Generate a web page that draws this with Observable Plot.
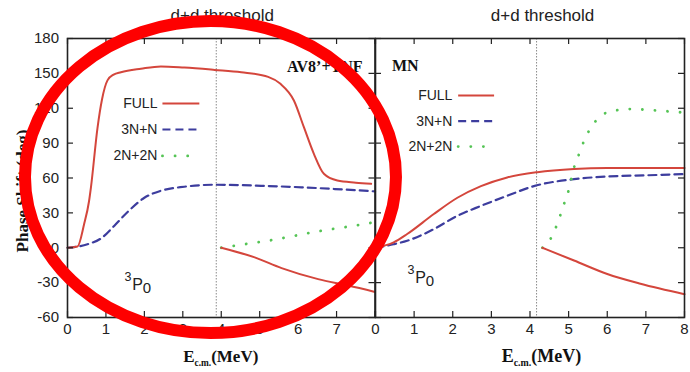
<!DOCTYPE html>
<html>
<head>
<meta charset="utf-8">
<script src="https://cdn.jsdelivr.net/npm/d3@7"></script>
<script src="https://cdn.jsdelivr.net/npm/@observablehq/plot@0.6"></script>
<style>
  body { margin: 0; background: #fff; }
  #chart { position: relative; width: 690px; height: 372px; background: #fff; overflow: hidden; }
  #chart svg { position: absolute; top: 0; overflow: visible; }
</style>
</head>
<body>
<div id="chart"></div>
<script>
// Axis ticks
const energyTicks = [0, 1, 2, 3, 4, 5, 6, 7, 8];
const energyTickLabelsAV8 = [0, 1, 2, 3, 4, 5, 6, 7];
const energyTickLabelsMN = [0, 1, 2, 3, 4, 5, 6, 7, 8];
const phaseTicks = [-60, -30, 0, 30, 60, 90, 120, 150, 180];

// AV8'+TNF, 3P0 phase shifts (deg) vs E_c.m. (MeV)
const av8Threshold = 3.87;
const av8FullE =     [0, 0.26, 0.43, 0.56, 0.61, 0.78, 0.9, 1.04, 1.2, 1.39, 1.91, 2.43, 3.04, 3.83, 4.52, 5.22, 5.54, 5.89, 6.15, 6.41, 6.67, 7.02, 7.5, 7.9];
const av8FullPhase = [0, 1,    20,   40,   52,   103,  128, 144,  149, 151,  154,  156,  155,  153,  151,  147,  141,  126.7, 103.7, 80.8, 63.6, 57.8, 56, 55];
const av8FullLowE =     [4.0, 4.87, 5.57, 6.52, 7.3, 8.0];
const av8FullLowPhase = [0, -8.3, -17.5, -27, -32.5, -38];
const av8ThreeNE =     [0, 0.52, 0.87, 1.22, 1.57, 2.0, 2.43, 3.04, 3.83, 5.04, 6.09, 6.96, 8.0];
const av8ThreeNPhase = [0, 3, 8, 19, 31, 43, 49, 52.5, 54.2, 53.3, 52, 50.5, 48.5];
const av8TwoNE =     [4.0, 4.5, 5.3, 6.5, 7.65, 8.0];
const av8TwoNPhase = [0, 2.5, 6.5, 14, 20, 22];

// MN, 3P0 phase shifts
const mnThreshold = 4.17;
const mnFullE =     [0, 0.47, 0.82, 1.51, 2.12, 2.73, 3.41, 4.19, 5.14, 6.0, 7.0, 8.0];
const mnFullPhase = [0, 4.6, 11.8, 29, 43, 53, 60.5, 65, 67.7, 68.5, 68.5, 68.5];
const mnFullLowE =     [4.32, 5.14, 6.0, 6.86, 8.0];
const mnFullLowPhase = [0, -11, -22.6, -31, -40];
const mnThreeNE =     [0, 0.47, 0.82, 1.51, 2.12, 2.73, 3.41, 4.1, 5.14, 6.0, 7.0, 8.0];
const mnThreeNPhase = [0, 3, 6, 16, 27.5, 36, 44.7, 53, 59, 61.3, 62.3, 63.4];
const mnTwoNE =     [4.32, 4.53, 4.7, 4.88, 5.01, 5.14, 5.27, 5.4, 5.7, 6.0, 6.6, 7.3, 7.95];
const mnTwoNPhase = [0, 7.5, 20, 37.6, 50.5, 69, 80.6, 92, 109, 116.4, 119.3, 118, 116.4];

// Legend rows
const legendLabels = ["FULL", "3N+N", "2N+2N"];
const legendKinds = ["full", "threeN", "twoN"];

const COLORS = { full: "#d4463c", threeN: "#3d3d9e", twoN: "#55c455", ink: "#222" };
const SANS = "'Liberation Sans', Arial, Helvetica, sans-serif";
const SERIF = "'Liberation Serif', 'Times New Roman', serif";

const H = 372, MT = 38, MB = 55;
const innerH = H - MT - MB;

const lineStyles = {
  full:   { stroke: COLORS.full, strokeWidth: 2 },
  threeN: { stroke: COLORS.threeN, strokeWidth: 2.2, strokeDasharray: "8 5" },
  twoN:   { stroke: COLORS.twoN, strokeWidth: 2.8, strokeDasharray: "0.1 12.5", strokeLinecap: "round" }
};

const series = (E, phase) => E.map((e, i) => ({ E: e, phase: phase[i] }));

function panel(cfg) {
  const innerW = cfg.width - cfg.marginLeft - cfg.marginRight;
  const legendRows = legendLabels.map((label, i) => ({ label, kind: legendKinds[i], phase: cfg.legend.phases[i] }));
  const tickStyle = { stroke: COLORS.ink, strokeWidth: 1.2 };
  const marks = [
    Plot.ruleX([cfg.threshold], { x: d => d, stroke: "#8a8a8a", strokeWidth: 1, strokeDasharray: "1.5 1.5" }),
    ...cfg.curves.map(c => Plot.line(c.data, { x: "E", y: "phase", curve: "monotone-x", ...lineStyles[c.kind] })),
    // inward ticks on all four sides
    Plot.tickX(energyTicks, { x: d => d, insetTop: innerH - 6, ...tickStyle }),
    Plot.tickX(energyTicks, { x: d => d, insetBottom: innerH - 6, ...tickStyle }),
    Plot.tickY(phaseTicks, { y: d => d, insetRight: innerW - 6, ...tickStyle }),
    Plot.tickY(phaseTicks, { y: d => d, insetLeft: innerW - 6, ...tickStyle }),
    Plot.frame({ stroke: COLORS.ink, strokeWidth: 1.6 }),
    Plot.text(cfg.tickLabels, { x: d => d, frameAnchor: "bottom", dy: 16, text: d => String(d), fontSize: 15, fill: COLORS.ink }),
    Plot.text([{ E: cfg.threshold, label: "d+d threshold" }], {
      x: "E", text: "label", frameAnchor: "top", lineAnchor: "middle", dy: -23, dx: 6, fontSize: 17, fill: "#222"
    }),
    Plot.text([cfg.model], {
      text: d => d, frameAnchor: cfg.modelAnchor, lineAnchor: "middle", textAnchor: cfg.modelAnchor === "top-right" ? "end" : "start",
      dx: cfg.modelDx, dy: cfg.modelDy, fontFamily: SERIF, fontWeight: "bold", fontSize: 16, fill: "#111"
    }),
    Plot.text(legendRows, {
      x: () => cfg.legend.textE, y: "phase", text: "label", textAnchor: "end", lineAnchor: "middle", fontSize: 14, fill: COLORS.ink
    }),
    ...legendRows.map(r => Plot.link([r], {
      x1: () => cfg.legend.lineE1,
      x2: () => r.kind === "twoN" ? cfg.legend.lineE2 - 0.15 : cfg.legend.lineE2,
      y1: "phase", y2: "phase", ...lineStyles[r.kind]
    })),
    // term symbol 3P0
    Plot.text([cfg.term], { x: "E", y: "phase", text: () => "P", fontSize: 16, fill: COLORS.ink }),
    Plot.text([cfg.term], { x: "E", y: "phase", text: () => "3", fontSize: 12.5, dx: -9.5, dy: -7.5, fill: COLORS.ink }),
    Plot.text([cfg.term], { x: "E", y: "phase", text: () => "0", fontSize: 15, dx: 9.5, dy: 3.5, fill: COLORS.ink })
  ];
  if (cfg.phaseLabels) {
    marks.push(Plot.text(phaseTicks, {
      y: d => d, frameAnchor: "left", textAnchor: "end", dx: -8.5, text: d => String(d), fontSize: 15, fill: COLORS.ink
    }));
  }
  return Plot.plot({
    width: cfg.width,
    height: H,
    marginLeft: cfg.marginLeft,
    marginRight: cfg.marginRight,
    marginTop: MT,
    marginBottom: MB,
    x: { domain: [0, 8], axis: null },
    y: { domain: [-60, 180], axis: null },
    style: { fontFamily: SANS, fontSize: "15px", color: COLORS.ink, background: "transparent", overflow: "visible" },
    marks
  });
}

const left = panel({
  width: 376, marginLeft: 67, marginRight: 1.5,
  threshold: av8Threshold,
  curves: [
    { kind: "threeN", data: series(av8ThreeNE, av8ThreeNPhase) },
    { kind: "twoN", data: series(av8TwoNE, av8TwoNPhase) },
    { kind: "full", data: series(av8FullE, av8FullPhase) },
    { kind: "full", data: series(av8FullLowE, av8FullLowPhase) }
  ],
  legend: { textE: 2.34, lineE1: 2.47, lineE2: 3.43, phases: [124, 101.7, 79] },
  term: { E: 1.82, phase: -31.6 },
  model: "AV8\u2019+TNF", modelAnchor: "top-right", modelDx: -12.5, modelDy: 28,
  tickLabels: energyTickLabelsAV8,
  phaseLabels: true
});

const right = panel({
  width: 316, marginLeft: 1, marginRight: 6,
  threshold: mnThreshold,
  curves: [
    { kind: "threeN", data: series(mnThreeNE, mnThreeNPhase) },
    { kind: "twoN", data: series(mnTwoNE, mnTwoNPhase) },
    { kind: "full", data: series(mnFullE, mnFullPhase) },
    { kind: "full", data: series(mnFullLowE, mnFullLowPhase) }
  ],
  legend: { textE: 1.99, lineE1: 2.14, lineE2: 3.07, phases: [131, 108.9, 87] },
  term: { E: 1.165, phase: -26 },
  model: "MN", modelAnchor: "top-left", modelDx: 16.5, modelDy: 27,
  tickLabels: energyTickLabelsMN,
  phaseLabels: false
});

const chart = document.getElementById("chart");
left.style.left = "0px";
right.style.left = "374px";
chart.append(left, right);

// Energy axis titles with the c.m. subscript
function energyTitle(svgNode, E, size) {
  const x = svgNode.scale("x").apply(E);
  const t = d3.select(svgNode).append("text")
    .attr("x", x).attr("y", 362)
    .attr("text-anchor", "middle")
    .attr("font-family", SERIF).attr("font-weight", "bold")
    .attr("font-size", size).attr("fill", "#111");
  t.append("tspan").text("E");
  t.append("tspan").attr("font-size", size * 0.55).attr("dy", 4).text("c.m.");
  t.append("tspan").attr("dy", -4).text("(MeV)");
}
energyTitle(left, 4.0, 17);
energyTitle(right, 4.31, 18);

// Phase shift axis title
d3.select(left).append("text")
  .attr("transform", "translate(28,191) rotate(-90)")
  .attr("text-anchor", "middle")
  .attr("font-family", SERIF).attr("font-weight", "bold")
  .attr("font-size", 17).attr("fill", "#111")
  .text("Phase Shift (deg)");

// Red highlight ring around the AV8'+TNF panel (given in that panel's data units)
const ring = { E: 3.733, phase: 60.4, rE: 4.826, rPhase: 134.2 };
const xs = left.scale("x"), ys = left.scale("y");
const cx = xs.apply(ring.E), cy = ys.apply(ring.phase);
const overlay = d3.create("svg")
  .attr("width", 690).attr("height", 372)
  .style("left", "0px").style("pointer-events", "none");
overlay.append("ellipse")
  .attr("cx", cx).attr("cy", cy)
  .attr("rx", xs.apply(ring.E + ring.rE) - cx)
  .attr("ry", ys.apply(ring.phase - ring.rPhase) - cy)
  .attr("fill", "none").attr("stroke", "#fe0000").attr("stroke-width", 12);
chart.append(overlay.node());
</script>
</body>
</html>
